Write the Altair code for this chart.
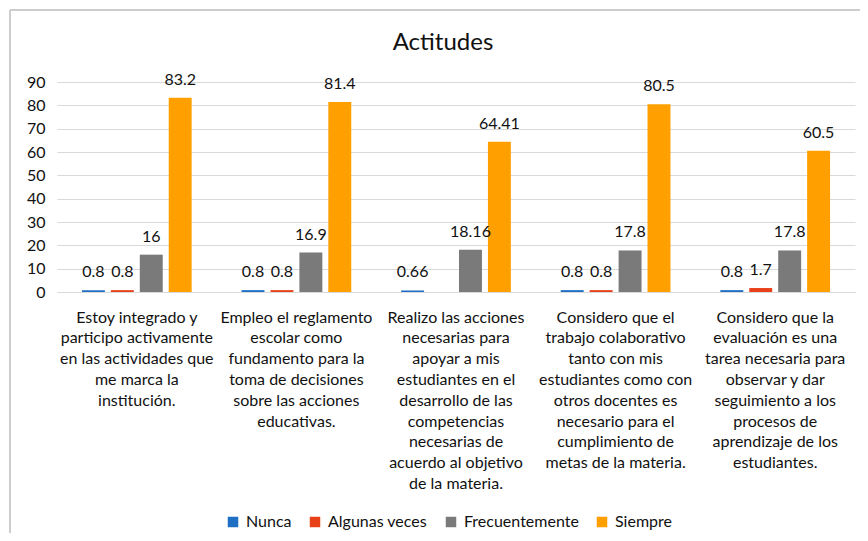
import altair as alt
import pandas as pd

categories = [
    "Estoy integrado y\nparticipo activamente\nen las actividades que\nme marca la\ninstitución.",
    "Empleo el reglamento\nescolar como\nfundamento para la\ntoma de decisiones\nsobre las acciones\neducativas.",
    "Realizo las acciones\nnecesarias para\napoyar a mis\nestudiantes en el\ndesarrollo de las\ncompetencias\nnecesarias de\nacuerdo al objetivo\nde la materia.",
    "Considero que el\ntrabajo colaborativo\ntanto con mis\nestudiantes como con\notros docentes es\nnecesario para el\ncumplimiento de\nmetas de la materia.",
    "Considero que la\nevaluación es una\ntarea necesaria para\nobservar y dar\nseguimiento a los\nprocesos de\naprendizaje de los\nestudiantes.",
]
series = ["Nunca", "Algunas veces", "Frecuentemente", "Siempre"]
colors = ["#1F6FC5", "#E8411A", "#7A7A7A", "#FFA000"]

nunca = [0.8, 0.8, 0.66, 0.8, 0.8]
algunas = [0.8, 0.8, None, 0.8, 1.7]
frecuente = [16, 16.9, 18.16, 17.8, 17.8]
siempre = [83.2, 81.4, 64.41, 80.5, 60.5]

rows = []
for s, vals in zip(series, [nunca, algunas, frecuente, siempre]):
    for c, v in zip(categories, vals):
        if v is None:
            continue
        rows.append({"cat": c, "serie": s, "valor": v, "etiqueta": f"{v:g}"})
df = pd.DataFrame(rows)

FONT = "Lato"
FS = 16

x = alt.X("cat:N", sort=categories, title=None,
          scale=alt.Scale(paddingInner=0, paddingOuter=0),
          axis=alt.Axis(labelAngle=0, labelExpr="split(datum.label, '\\n')",
                        labelLineHeight=20.8, labelFontSize=FS, labelFont=FONT,
                        labelColor="#111111", ticks=False, labelPadding=17,
                        domainColor="#d9d9d9", labelLimit=300))
xo = alt.XOffset("serie:N", sort=series,
                 scale=alt.Scale(paddingInner=0.207, paddingOuter=0.862))
y = alt.Y("valor:Q", title=None,
          scale=alt.Scale(domain=[0, 90], nice=False),
          axis=alt.Axis(values=list(range(0, 91, 10)), labelFontSize=FS, labelFont=FONT,
                        labelColor="#111111", domain=False, ticks=False,
                        gridColor="#d9d9d9", labelPadding=12))

bars = alt.Chart(df).mark_bar().encode(
    x=x, xOffset=xo, y=y,
    color=alt.Color("serie:N", sort=series, title=None,
                    scale=alt.Scale(domain=series, range=colors),
                    legend=alt.Legend(orient="none", legendX=168, legendY=432,
                                      direction="horizontal",
                                      symbolType="square", symbolSize=110,
                                      labelFontSize=FS, labelFont=FONT,
                                      labelColor="#111111", columnPadding=15,
                                      labelOffset=5, symbolStrokeWidth=0)),
)

labels = alt.Chart(df).mark_text(baseline="middle", dy=-18, fontSize=FS,
                                 font=FONT, color="#111111").encode(
    x=x, xOffset=xo, y=y, text="etiqueta:N"
)

frame = alt.Chart(df).mark_rule(color="#cccccc", strokeWidth=1).encode(
    x=alt.value(-47), x2=alt.value(-47), y=alt.value(-72), y2=alt.value(470)
)
frame_top = alt.Chart(df).mark_rule(color="#cccccc", strokeWidth=1).encode(
    x=alt.value(-47), x2=alt.value(805), y=alt.value(-72), y2=alt.value(-72)
)

chart = alt.layer(frame, frame_top, bars, labels).properties(
    width=798, height=210,
    title=alt.TitleParams("Actitudes", fontSize=24, font=FONT, fontWeight="normal",
                          color="#111111", dx=-13, offset=-45),
    autosize=alt.AutoSizeParams(type="none"),
    padding={"left": 49, "top": 74, "right": 5, "bottom": 241},
).configure_view(stroke=None)

chart.save("out.html", embed_options={"renderer": "svg", "actions": False})
